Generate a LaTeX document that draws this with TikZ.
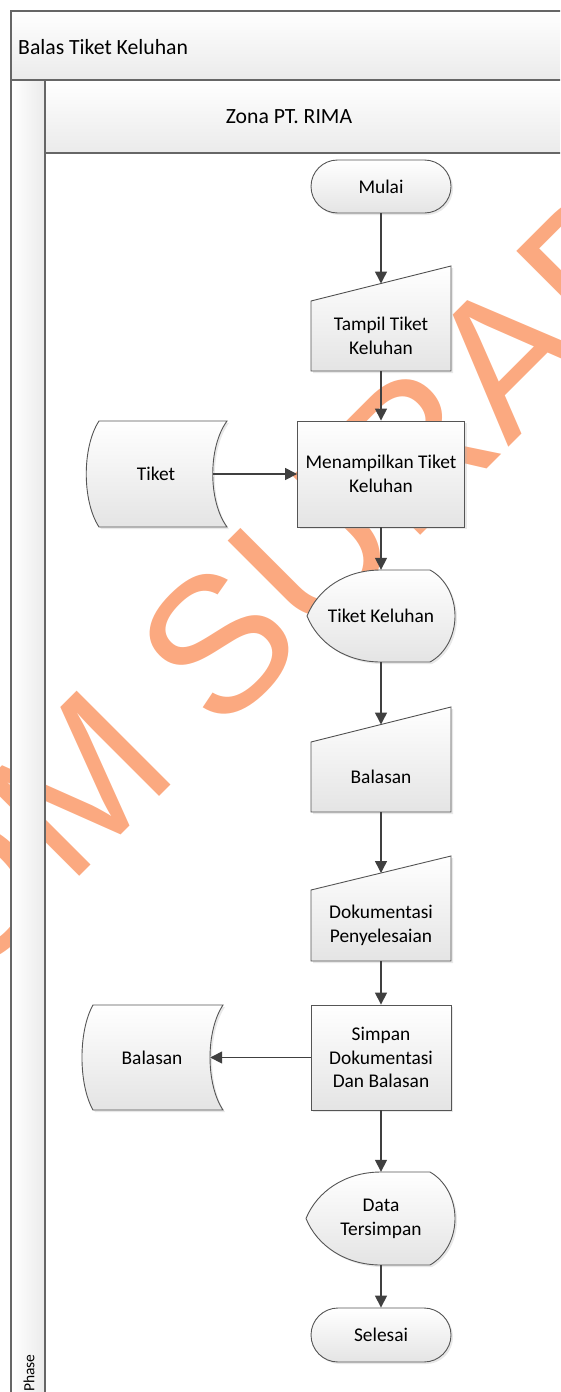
\documentclass[tikz,border=0pt]{standalone}
\usepackage{fontspec}
\setmainfont{Carlito}
\newfontfamily\stampfont{Liberation Sans}
\usetikzlibrary{arrows.meta,shapes.misc,shadows}
\definecolor{linecol}{HTML}{555555}
\definecolor{arrowcol}{HTML}{404040}
\definecolor{poolcol}{HTML}{666666}
\definecolor{fillbot}{HTML}{E4E4E4}
\definecolor{stampcol}{RGB}{251,169,128}

% outline of a manual-input step: left top, right top, bottom
\newcommand{\ManualOutline}[3]{(311,#1) -- (451,#2) -- (451,#3) -- (311,#3) -- cycle}

\begin{document}
\begin{tikzpicture}[x=1pt,y=-1pt,
  shapefill/.style={draw=linecol, line width=0.9pt, top color=white, bottom color=fillbot,
    drop shadow={shadow xshift=2pt, shadow yshift=-2pt, fill=black!30, opacity=0.3}},
  lbl/.style={inner sep=0pt, align=center, font=\fontsize{19.4}{23.7}\selectfont},
  hdr/.style={inner sep=0pt, font=\fontsize{21.7}{26}\selectfont},
  term/.style={rounded rectangle, shapefill, lbl, minimum width=140pt},
  procbox/.style={rectangle, shapefill, lbl},
  flow/.style={draw=arrowcol, line width=1.5pt, -{Triangle[length=12pt,width=12pt]}},
  pool/.style={draw=poolcol, line width=1.5pt},
  band/.style={top color=white, bottom color=black!8},
]
\useasboundingbox (0,0) rectangle (560,1392);
\begin{scope}
\clip (0,0) rectangle (560,1392);

% stamp across the sheet
\node[rotate=45, anchor=base, text=stampcol, inner sep=0pt, font=\stampfont\fontsize{193}{193}\selectfont] (stamp) at (301,655) {STIKOM SURABAYA};

% pool and lane
\path[band] (11,11) rectangle (575,80);
\path[band] (45,80) rectangle (575,153);
\path[left color=white, right color=black!8] (11,80) rectangle (45,1400);
\draw[pool] (575,11) -- (11,11) -- (11,1400);
\draw[pool] (11,80) -- (575,80);
\draw[pool] (45,80) -- (45,1400);
\draw[pool] (45,153) -- (575,153);
\node[hdr, anchor=west] (title) at (18,47) {Balas Tiket Keluhan};
\node[hdr] (lane) at (289,117) {Zona PT. RIMA};
\node[inner sep=0pt, rotate=90, font=\fontsize{15.5}{18}\selectfont] (phase) at (29,1373) {Phase};

% start
\node[term, minimum height=53pt] (mulai) at (381,186.5) {Mulai};

% manual input: ticket view
\path[shapefill] \ManualOutline{301}{266}{371};
\node[lbl, minimum width=140pt, minimum height=70pt] (tampil) at (381,336) {Tampil Tiket\\Keluhan};
\coordinate (tampilTop) at (381,283.5);

% process: show ticket
\node[procbox, minimum width=167pt, minimum height=106pt] (proses) at (381,474) {Menampilkan Tiket\\Keluhan};

% stored data: Tiket
\path[shapefill] (99,421) -- (227,421) .. controls (208,447) and (208,501) .. (227,527)
  -- (99,527) .. controls (82,501) and (82,447) .. (99,421) -- cycle;
\node[lbl, minimum width=114pt, minimum height=106pt] (tiket) at (156,474) {Tiket};

% display: Tiket Keluhan
\begin{scope}[shift={(0,616)}]
\path[shapefill] (307,0) .. controls (318,-27) and (345,-46) .. (381,-46) -- (430,-46)
  .. controls (445,-38) and (455,-20) .. (455,0) .. controls (455,20) and (445,38) .. (430,46)
  -- (381,46) .. controls (345,46) and (318,27) .. (307,0) -- cycle;
\end{scope}
\node[lbl, minimum width=148pt, minimum height=92pt] (tkel) at (381,616) {Tiket Keluhan};

% manual input: reply
\path[shapefill] \ManualOutline{742}{707}{812};
\node[lbl, minimum width=140pt, minimum height=70pt] (balas) at (381,777) {Balasan};
\coordinate (balasTop) at (381,724.5);

% manual input: documentation
\path[shapefill] \ManualOutline{890}{856}{961};
\node[lbl, minimum width=140pt, minimum height=71pt] (dok) at (381,925.5) {Dokumentasi\\Penyelesaian};
\coordinate (dokTop) at (381,873);

% process: save
\node[procbox, minimum width=140pt, minimum height=105pt] (simpan) at (381,1057.5) {Simpan\\Dokumentasi\\Dan Balasan};

% stored data: Balasan
\path[shapefill] (93,1005) -- (223,1005) .. controls (205.7,1031) and (205.7,1084) .. (223,1110)
  -- (93,1110) .. controls (78.3,1084) and (78.3,1031) .. (93,1005) -- cycle;
\node[lbl, minimum width=116pt, minimum height=105pt] (arsip) at (152,1057.5) {Balasan};

% display: saved data
\begin{scope}[shift={(0,1218.5)}]
\path[shapefill] (306,0) .. controls (317,-27) and (345,-46.5) .. (381,-46.5) -- (430,-46.5)
  .. controls (445,-38) and (455,-20) .. (455,0) .. controls (455,20) and (445,38) .. (430,46.5)
  -- (381,46.5) .. controls (345,46.5) and (317,27) .. (306,0) -- cycle;
\end{scope}
\node[lbl, minimum width=149pt, minimum height=93pt] (tersimpan) at (381,1218.5) {Data\\Tersimpan};

% end
\node[term, minimum height=54pt] (selesai) at (381,1335) {Selesai};

% connectors
\draw[flow] (mulai.south) -- (tampilTop);
\draw[flow] (tampil.south) -- (proses.north);
\draw[flow] (tiket.east) -- (proses.west);
\draw[flow] (proses.south) -- (tkel.north);
\draw[flow] (tkel.south) -- (balasTop);
\draw[flow] (balas.south) -- (dokTop);
\draw[flow] (dok.south) -- (simpan.north);
\draw[flow] (simpan.west) -- (arsip.east);
\draw[flow] (simpan.south) -- (tersimpan.north);
\draw[flow] (tersimpan.south) -- (selesai.north);
\end{scope}
\end{tikzpicture}
\end{document}
